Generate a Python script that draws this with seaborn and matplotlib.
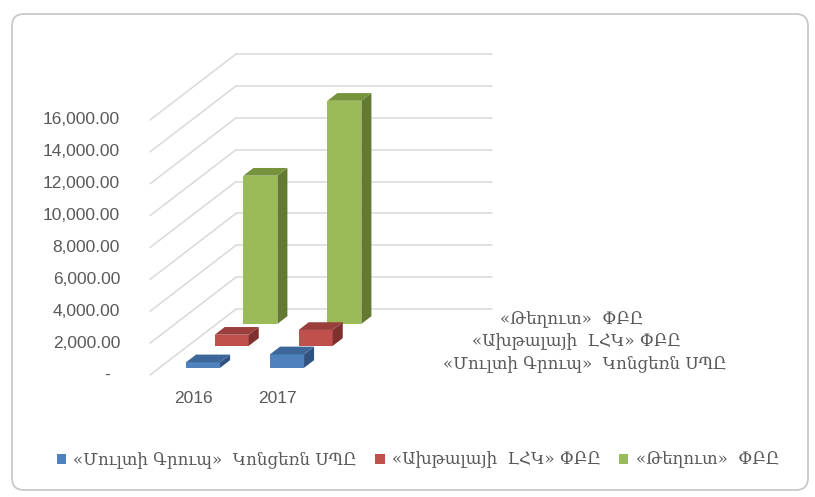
import numpy as np
import matplotlib.pyplot as plt
import seaborn as sns
from matplotlib.patches import Polygon, FancyBboxPatch

# data
years = ["2016", "2017"]
series = ["«Մուլտի Գրուպ»  Կոնցեռն ՍՊԸ", "«Ախթալայի  ԼՀԿ» ՓԲԸ", "«Թեղուտ»  ՓԲԸ"]
multi_group = [350, 850]
akhtala = [700, 1000]
teghout = [9300, 14000]
values = [multi_group, akhtala, teghout]
y_ticks = list(range(0, 16001, 2000))

front_colors = ["#4F81BD", "#C0504D", "#9BBB59"]
top_colors = ["#3C6798", "#9A3F3C", "#76933C"]
side_colors = ["#2F5281", "#7E302E", "#627A31"]
grid_color = "#D9D9D9"
text_color = "#595959"

# oblique "3d" geometry, in data units (x = category, y = value)
DX, DY = 0.3413, 1379      # shift per depth row
X0, X1 = -0.52, 2.527      # floor left/right edge on the front plane
BAR_W, BAR_D = 0.405, 0.35  # bar width (categories) and depth (rows)
N_ROWS = 3

sns.set_style("white")
plt.rcParams["font.family"] = ["Liberation Sans", "DejaVu Sans"]
arm_font = ["DejaVu Serif", "DejaVu Sans"]

fig = plt.figure(figsize=(8.15, 4.97), dpi=100)
ax = fig.add_axes([0, 0, 1, 1])

# walls: side wall diagonals and back wall lines
for v in y_ticks:
    ax.plot([X0, X0 + N_ROWS * DX], [v, v + N_ROWS * DY], color=grid_color, lw=1.1, zorder=1)
    ax.plot([X0 + N_ROWS * DX, X1 + N_ROWS * DX], [v + N_ROWS * DY] * 2,
            color=grid_color, lw=1.1, zorder=1)

x_pos = np.arange(len(years), dtype=float)

# back row first so the front rows cover it
for i in reversed(range(N_ROWS)):
    t0 = i + 0.5 - BAR_D / 2
    z = 10 + (N_ROWS - i) * 2
    sns.barplot(x=x_pos + t0 * DX, y=values[i], native_scale=True, width=BAR_W,
                bottom=t0 * DY, color=front_colors[i], saturation=1, errorbar=None,
                linewidth=0, zorder=z, label=series[i], ax=ax)
    for xc, v in zip(x_pos, values[i]):
        left = xc - BAR_W / 2 + t0 * DX
        right = xc + BAR_W / 2 + t0 * DX
        base = t0 * DY
        top = base + v
        ddx, ddy = BAR_D * DX, BAR_D * DY
        ax.add_patch(Polygon([(right, base), (right + ddx, base + ddy),
                              (right + ddx, top + ddy), (right, top)],
                             closed=True, color=side_colors[i], lw=0, zorder=z))
        ax.add_patch(Polygon([(left, top), (right, top), (right + ddx, top + ddy),
                              (left + ddx, top + ddy)],
                             closed=True, color=top_colors[i], lw=0, zorder=z))

# value labels on the front left edge
for v in y_ticks:
    if v == 0:
        ax.text(-0.996, v, "-", ha="right", va="center", fontsize=12.5, color=text_color)
    else:
        ax.text(-0.877, v, f"{v:,.2f}", ha="right", va="center", fontsize=12.5, color=text_color)

# category labels
for xc, yr in zip(x_pos, years):
    ax.text(xc, -1506, yr, ha="center", va="center", fontsize=12.5, color=text_color)

# series labels along the right edge of the floor
for i, name in enumerate(series):
    c = i + 0.5
    ax.text(X1 + c * DX + 0.27, c * DY, name, ha="left", va="center",
            fontsize=12, color=text_color, family=arm_font)

ax.set_xlim(-2.306, 7.396)
ax.set_ylim(-7655, 23529)
ax.set_axis_off()

handles, labels = ax.get_legend_handles_labels()
if ax.get_legend() is not None:
    ax.get_legend().remove()
leg = fig.legend(handles[::-1], labels[::-1], loc="center", ncol=3,
                 bbox_to_anchor=(418 / 815, 1 - 460 / 497), frameon=False,
                 handlelength=0.55, handleheight=0.55, handletextpad=0.45,
                 columnspacing=1.1, prop={"family": arm_font, "size": 12})
for t in leg.get_texts():
    t.set_color(text_color)

# chart area frame
fig.add_artist(FancyBboxPatch((12, 7), 796, 476, boxstyle="round,pad=0,rounding_size=12",
                              transform=None, fill=False, edgecolor="#C9C9C9", lw=1.3))

fig.savefig("out.png", dpi=100)
